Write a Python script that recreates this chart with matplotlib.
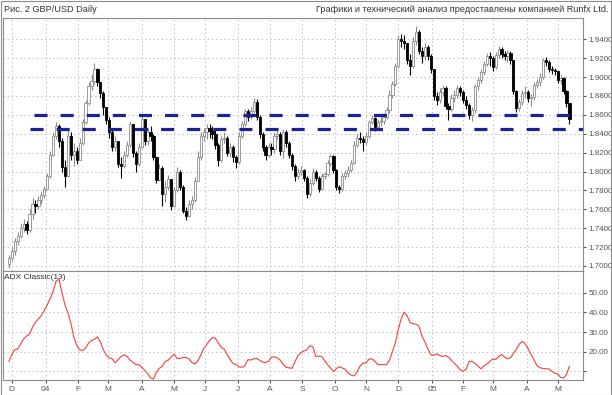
import numpy as np
import pandas as pd
import matplotlib
matplotlib.use("Agg")
import matplotlib.pyplot as plt
from matplotlib.patches import Rectangle

plt.rcParams['font.family'] = ['Liberation Sans', 'DejaVu Sans']
plt.rcParams['lines.scale_dashes'] = False

# GBP/USD, одна свеча = 2 торговых дня, начиная с 27.11.2003
start_date = '2003-11-27'
first_open = 1.702

close = [
    1.708, 1.716, 1.726, 1.732, 1.740, 1.744, 1.738, 1.755, 1.766, 1.763,
    1.770, 1.775, 1.781, 1.795, 1.818, 1.838, 1.848, 1.832, 1.805, 1.795,
    1.838, 1.818, 1.822, 1.812, 1.830, 1.852, 1.872, 1.890, 1.896, 1.908,
    1.895, 1.883, 1.868,
    1.855, 1.842, 1.826, 1.832, 1.808, 1.806, 1.818, 1.828, 1.850, 1.820,
    1.808, 1.826, 1.856, 1.832, 1.842, 1.838, 1.815, 1.791, 1.804, 1.776,
    1.784, 1.792, 1.763, 1.780, 1.800, 1.784, 1.758, 1.753, 1.766, 1.770,
    1.790, 1.815,
    1.838, 1.842, 1.846, 1.843, 1.840, 1.828, 1.812, 1.834, 1.836, 1.820,
    1.826, 1.815, 1.810, 1.838, 1.850, 1.864, 1.858, 1.864, 1.874, 1.858,
    1.840, 1.826, 1.818, 1.826, 1.824, 1.838, 1.840, 1.822, 1.842, 1.830,
    1.818, 1.806, 1.795,
    1.800, 1.802, 1.793, 1.776, 1.788, 1.800, 1.793, 1.781, 1.795, 1.797,
    1.809, 1.816, 1.802, 1.784, 1.781, 1.795, 1.798, 1.802, 1.809, 1.828,
    1.835, 1.834, 1.831, 1.838, 1.852, 1.857, 1.847, 1.852, 1.854, 1.858,
    1.865, 1.881,
    1.893, 1.912, 1.940, 1.938, 1.936, 1.918, 1.912, 1.938, 1.948, 1.928,
    1.922, 1.932, 1.922, 1.908, 1.880, 1.876, 1.884, 1.888, 1.869, 1.866,
    1.878, 1.881, 1.888, 1.884, 1.876, 1.870, 1.860, 1.865, 1.890, 1.897,
    1.905, 1.914,
    1.922, 1.920, 1.911, 1.923, 1.930, 1.924, 1.922, 1.925, 1.918, 1.885,
    1.867, 1.874, 1.883, 1.884, 1.878, 1.879, 1.892, 1.895, 1.900, 1.918,
    1.916, 1.909, 1.907, 1.906, 1.897, 1.899, 1.885, 1.872, 1.856,
]

high = [
    1.712, 1.720, 1.730, 1.736, 1.745, 1.750, 1.748, 1.760, 1.772, 1.770,
    1.774, 1.778, 1.785, 1.798, 1.822, 1.842, 1.852, 1.850, 1.835, 1.812,
    1.846, 1.842, 1.830, 1.826, 1.835, 1.856, 1.876, 1.895, 1.903, 1.915,
    1.910, 1.895, 1.885,
    1.868, 1.858, 1.845, 1.838, 1.830, 1.815, 1.822, 1.832, 1.853, 1.848,
    1.822, 1.830, 1.859, 1.855, 1.846, 1.848, 1.840, 1.815, 1.808, 1.806,
    1.790, 1.796, 1.790, 1.784, 1.805, 1.802, 1.786, 1.762, 1.770, 1.774,
    1.794, 1.822,
    1.842, 1.846, 1.850, 1.850, 1.848, 1.844, 1.830, 1.838, 1.842, 1.838,
    1.830, 1.828, 1.818, 1.842, 1.854, 1.866, 1.866, 1.868, 1.878, 1.877,
    1.860, 1.842, 1.828, 1.830, 1.830, 1.842, 1.846, 1.842, 1.845, 1.844,
    1.832, 1.820, 1.808,
    1.804, 1.806, 1.803, 1.795, 1.792, 1.804, 1.802, 1.795, 1.798, 1.800,
    1.812, 1.819, 1.818, 1.803, 1.786, 1.798, 1.802, 1.806, 1.812, 1.832,
    1.840, 1.842, 1.838, 1.842, 1.855, 1.860, 1.858, 1.856, 1.858, 1.862,
    1.868, 1.886,
    1.896, 1.915, 1.944, 1.946, 1.944, 1.936, 1.924, 1.942, 1.954, 1.950,
    1.932, 1.936, 1.934, 1.924, 1.908, 1.884, 1.888, 1.892, 1.890, 1.872,
    1.882, 1.886, 1.892, 1.890, 1.886, 1.880, 1.872, 1.868, 1.893, 1.900,
    1.908, 1.917,
    1.925, 1.926, 1.922, 1.926, 1.933, 1.932, 1.928, 1.929, 1.928, 1.918,
    1.886, 1.877, 1.886, 1.890, 1.886, 1.882, 1.895, 1.898, 1.904, 1.920,
    1.921, 1.918, 1.912, 1.910, 1.906, 1.902, 1.900, 1.886, 1.872,
]

low = [
    1.698, 1.705, 1.712, 1.722, 1.730, 1.736, 1.734, 1.736, 1.750, 1.756,
    1.760, 1.766, 1.772, 1.780, 1.793, 1.816, 1.834, 1.826, 1.800, 1.784,
    1.795, 1.812, 1.806, 1.808, 1.812, 1.828, 1.850, 1.870, 1.886, 1.893,
    1.890, 1.878, 1.860,
    1.850, 1.836, 1.822, 1.822, 1.805, 1.793, 1.804, 1.815, 1.826, 1.815,
    1.800, 1.806, 1.825, 1.828, 1.828, 1.832, 1.812, 1.788, 1.790, 1.763,
    1.768, 1.780, 1.759, 1.762, 1.778, 1.780, 1.756, 1.749, 1.752, 1.760,
    1.768, 1.790,
    1.812, 1.832, 1.834, 1.836, 1.834, 1.824, 1.806, 1.810, 1.830, 1.816,
    1.815, 1.810, 1.804, 1.808, 1.836, 1.848, 1.854, 1.856, 1.862, 1.855,
    1.836, 1.822, 1.812, 1.815, 1.818, 1.820, 1.834, 1.818, 1.814, 1.826,
    1.814, 1.802, 1.790,
    1.792, 1.796, 1.790, 1.772, 1.774, 1.786, 1.790, 1.778, 1.780, 1.792,
    1.795, 1.806, 1.798, 1.780, 1.777, 1.779, 1.792, 1.794, 1.800, 1.808,
    1.826, 1.830, 1.822, 1.828, 1.836, 1.850, 1.843, 1.845, 1.848, 1.850,
    1.856, 1.862,
    1.878, 1.890, 1.910, 1.932, 1.930, 1.914, 1.902, 1.910, 1.934, 1.924,
    1.915, 1.918, 1.918, 1.904, 1.876, 1.870, 1.872, 1.880, 1.866, 1.855,
    1.864, 1.874, 1.878, 1.880, 1.872, 1.866, 1.856, 1.853, 1.862, 1.886,
    1.894, 1.902,
    1.912, 1.912, 1.906, 1.909, 1.920, 1.920, 1.918, 1.916, 1.914, 1.882,
    1.863, 1.864, 1.870, 1.878, 1.874, 1.869, 1.876, 1.888, 1.890, 1.898,
    1.912, 1.905, 1.903, 1.902, 1.894, 1.893, 1.882, 1.868, 1.850,
]

adx = [
    15, 18.5, 21, 21.4, 24, 26.5, 28, 29, 32.5, 35,
    36.7, 38.5, 41, 44, 47, 51, 56, 57, 50, 44,
    40, 34.5, 27.5, 23.2, 21, 20.6, 21.8, 24.3, 25.7, 26.3,
    27.5, 25, 21, 18.2, 16.9, 16.3, 14.3, 15.8, 17.5, 18.3,
    17.6, 15.8, 14.6, 13.4, 13.4, 12, 10.5, 8.8, 6.6, 6,
    9.5, 11.5, 12.5, 15, 15.6, 17.2, 18.8, 16.5, 16.5, 17,
    17, 16.3, 14.5, 13.7, 15.2, 18, 21.5, 23.6, 25.5, 27.2,
    26.8, 24.5, 22.2, 21.2, 18.5, 16, 13.8, 13.4, 12.2, 12,
    12.8, 15.9, 15.7, 16.3, 16.5, 15.6, 14.6, 14.4, 15, 17.2,
    17.3, 16.8, 15.6, 13.4, 12, 11.7, 11.5, 15, 18, 19.4,
    20.4, 21, 23, 22.5, 17.6, 17.6, 17.6, 15.5, 13.4, 11.6,
    9.8, 11.3, 12.3, 11.6, 11, 9.2, 8, 7.6, 9.5, 12.5,
    14.2, 14.2, 16, 16.4, 15.2, 13.4, 13.4, 13.4, 13.4, 15.5,
    20, 24.5, 31.5, 36.8, 40.2, 38.3, 34.8, 34.3, 34, 33,
    28, 25, 21.5, 18.4, 18.1, 18.8, 18, 17.5, 18, 17.2,
    15.5, 14, 12.5, 10.6, 10, 11, 15, 15, 14, 12.6,
    11.2, 12.6, 13.6, 15, 16.3, 16, 17.5, 18.5, 17.3, 16.4,
    16.8, 19, 21.2, 23.8, 25.2, 24, 21.5, 18.5, 15.8, 12.8,
    11.8, 11.4, 11.2, 11.2, 10, 9, 8.6, 6.8, 6.5, 8.3,
    12.5,
]

# уровни поддержки (цена, с какой свечи начинается линия)
levels = [1.8600, 1.8450]
level_from = [8.5, 7.0]

month_labels = ['D', '04', 'F', 'M', 'A', 'M', 'J', 'J', 'A', 'S', 'O', 'N',
                'D', '05', 'F', 'M', 'A', 'M']

close = np.array(close)
high = np.array(high)
low = np.array(low)
adx = np.array(adx)
x = np.arange(len(close))
opens = np.r_[first_open, close[:-1]]
high = np.maximum(high, np.maximum(opens, close))
low = np.minimum(low, np.minimum(opens, close))
up = close >= opens

# позиции начала месяцев (в свечах по 2 дня)
days = pd.bdate_range(start_date, periods=2 * len(close))
month_pos = [i / 2 for i in range(1, len(days)) if days[i].month != days[i - 1].month]

grid_kw = dict(color='#b4b4b4', linestyle=(0, (1, 2)), linewidth=0.6)
frame_col = '#8c8c8c'

fig = plt.figure(figsize=(6.12, 3.95), dpi=100)
ax = fig.add_axes([3 / 612, 1 - 271 / 395, 580 / 612, 253 / 395])
ax2 = fig.add_axes([3 / 612, 1 - 380 / 395, 580 / 612, 109 / 395], sharex=ax)

# свечи
ax.vlines(x[up], low[up], high[up], color='#8c8c8c', lw=0.8, zorder=2)
ax.vlines(x[~up], low[~up], high[~up], color='black', lw=0.8, zorder=2)
body_lo = np.minimum(opens, close)
body_h = np.maximum(np.abs(close - opens), 0.0008)
ax.bar(x[up], body_h[up], bottom=body_lo[up], width=0.75, color='white',
       edgecolor='#8c8c8c', linewidth=0.6, zorder=3)
ax.bar(x[~up], body_h[~up], bottom=body_lo[~up], width=0.75, color='black',
       edgecolor='black', linewidth=0.6, zorder=3)

xmax = 194.6
for lev, x0 in zip(levels, level_from):
    ax.plot([x0, xmax], [lev, lev], color='#1c2296', lw=2.3,
            linestyle=(0, (9.4, 9.4)), solid_capstyle='butt', zorder=5)

ax.set_xlim(-2.0, xmax)
ax.set_ylim(1.6947, 1.9625)
ax.set_yticks(np.arange(1.70, 1.9401, 0.02))
ax.yaxis.set_major_formatter(plt.FuncFormatter(lambda v, p: f'{v:.4f}'))
ax.yaxis.tick_right()
ax.tick_params(axis='y', labelsize=5.8, length=2.5, pad=1.5, colors='#555555')
ax.tick_params(axis='x', length=0, labelbottom=False)
ax.set_xticks(month_pos)
ax.grid(True, **grid_kw)
ax.set_axisbelow(True)

# ADX
ax2.plot(x, adx, color='#f24848', lw=0.85)
ax2.set_ylim(5.5, 61.2)
ax2.set_yticks([10, 20, 30, 40, 50])
ax2.set_yticklabels(['', '20.00', '30.00', '40.00', '50.00'])
ax2.yaxis.tick_right()
ax2.tick_params(axis='y', labelsize=5.8, length=2.5, pad=1.5, colors='#555555')
ax2.set_xticks(month_pos)
ax2.set_xticklabels(month_labels)
ax2.tick_params(axis='x', labelsize=6, length=2.5, pad=2, colors='#555555')
ax2.grid(True, **grid_kw)
ax2.set_axisbelow(True)
ax2.text(0.002, 0.975, 'ADX Classic(13)', transform=ax2.transAxes,
         fontsize=6, va='top', ha='left', color='#333333')

for a in (ax, ax2):
    for s in a.spines.values():
        s.set_color(frame_col)
        s.set_linewidth(0.8)

fig.text(4 / 612, 1 - 9 / 395, 'Рис. 2 GBP/USD Daily', fontsize=6.6,
         va='center', ha='left', color='#333333')
fig.text(608 / 612, 1 - 9 / 395,
         'Графики и технический анализ предоставлены компанией Runfx Ltd.',
         fontsize=6.6, va='center', ha='right', color='#333333')

fig.patches.append(Rectangle((0.001, 0.001), 0.998, 0.997, transform=fig.transFigure,
                             fill=False, edgecolor=frame_col, linewidth=0.8))

fig.savefig('out.png', dpi=100)
